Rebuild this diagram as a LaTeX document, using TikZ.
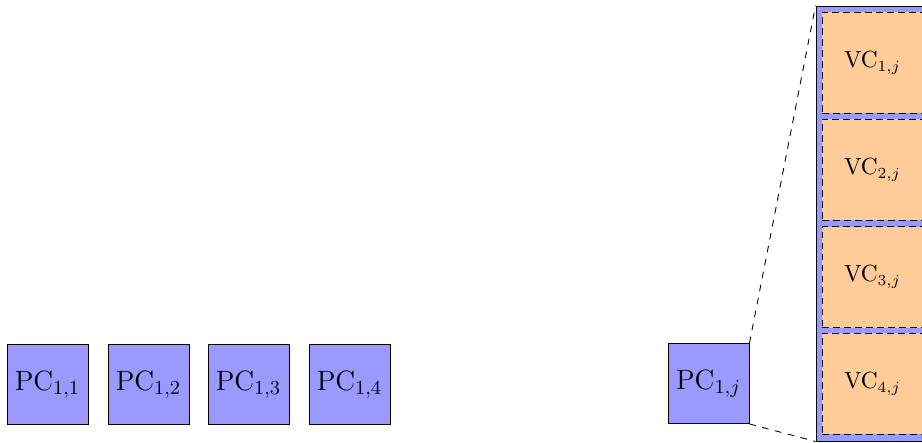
\documentclass[tikz,border=0pt]{standalone}
\newlength\pxu
\setlength\pxu{0.4545pt}
\begin{document}
\begin{tikzpicture}[x=0.4545pt,y=-0.4545pt,
  pcbox/.style={draw=black, fill=blue!40, minimum width=81\pxu, minimum height=80\pxu, inner sep=0pt, font=\fontsize{12.7}{15}\selectfont},
  bigbox/.style={draw=black, fill=blue!40, minimum width=113\pxu, minimum height=435\pxu, inner sep=0pt},
  vcbox/.style={draw=black, densely dashed, fill=orange!40, minimum width=101\pxu, minimum height=101\pxu, inner sep=0pt, font=\fontsize{10.6}{13}\selectfont},
  link/.style={draw=black, dashed}]
\useasboundingbox (0,0) rectangle (922,442);
\clip (0,0) rectangle (922,442);
\node[pcbox] (pc11) at (47.5,384.5) {PC$_{1,1}$};
\node[pcbox] (pc12) at (148.5,384.5) {PC$_{1,2}$};
\node[pcbox] (pc13) at (248.5,384.5) {PC$_{1,3}$};
\node[pcbox] (pc14) at (349.5,384.5) {PC$_{1,4}$};
\node[pcbox] (pc1j) at (708.5,383.5) {PC$_{1,j}$};
\node[bigbox] (big) at (872.5,223.5) {};
\node[vcbox] (vc1) at (872.5,62.5) {VC$_{1,j}$};
\node[vcbox] (vc2) at (872.5,169.5) {VC$_{2,j}$};
\node[vcbox] (vc3) at (872.5,277) {VC$_{3,j}$};
\node[vcbox] (vc4) at (872.5,383.5) {VC$_{4,j}$};
\draw[link] (pc1j.north east) -- (big.north west);
\draw[link] (pc1j.south east) -- (big.south west);
\end{tikzpicture}
\end{document}
